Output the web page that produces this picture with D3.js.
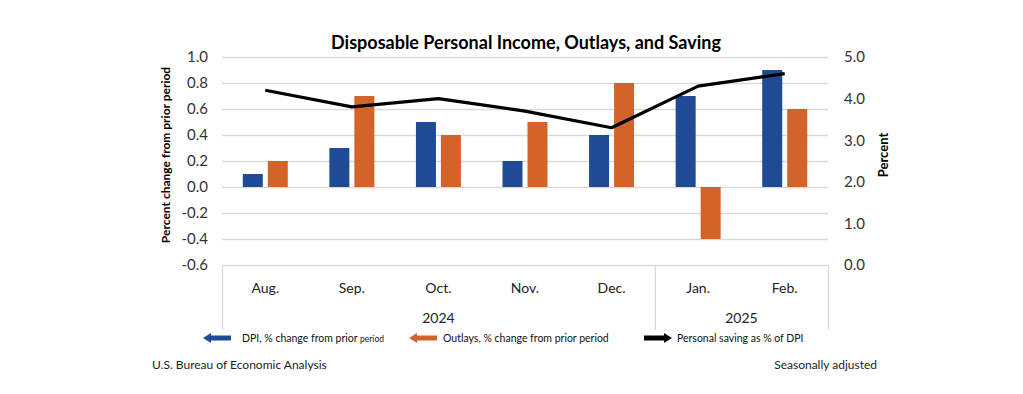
<!DOCTYPE html>
<html>
<head>
<meta charset="utf-8">
<script src="https://cdn.jsdelivr.net/npm/d3@7"></script>
<style>
  body { margin: 0; background: #fff; }
  svg text { font-family: Lato, "Open Sans", sans-serif; }
</style>
</head>
<body>
<div id="chart"></div>
<script>
// data
var months = ["Aug.", "Sep.", "Oct.", "Nov.", "Dec.", "Jan.", "Feb."];
var dpi = [0.1, 0.3, 0.5, 0.2, 0.4, 0.7, 0.9];
var outlays = [0.2, 0.7, 0.4, 0.5, 0.8, -0.4, 0.6];
var saving = [4.2, 3.8, 4.0, 3.7, 3.3, 4.3, 4.6];
var leftTicks = [-0.6, -0.4, -0.2, 0.0, 0.2, 0.4, 0.6, 0.8, 1.0];
var rightTicks = [0, 1, 2, 3, 4, 5];
var years = [{label: "2024", from: "Aug.", to: "Dec."}, {label: "2025", from: "Jan.", to: "Feb."}];

var blue = "#1f4b96", orange = "#d2642a", grid = "#d9d9d9";

var svg = d3.select("#chart").append("svg")
    .attr("width", 1023)
    .attr("height", 394);

var plotLeft = 222, plotRight = 828, plotTop = 57, plotBottom = 265;

var x = d3.scaleBand().domain(months).range([plotLeft, plotRight]);
var y = d3.scaleLinear().domain([-0.6, 1.0]).range([plotBottom, plotTop]);
var y2 = d3.scaleLinear().domain([0, 5]).range([plotBottom, plotTop]);
var xSub = d3.scaleBand().domain(["dpi", "outlays"]).range([-22.5, 22.5]).paddingInner(0.2);

// title
svg.append("text")
    .attr("x", 526).attr("y", 49)
    .attr("text-anchor", "middle")
    .style("font-size", "18px").style("font-weight", "bold")
    .attr("fill", "#000")
    .text("Disposable Personal Income, Outlays, and Saving");

// gridlines
svg.append("g").selectAll("line")
    .data(leftTicks)
    .enter().append("line")
    .attr("x1", plotLeft).attr("x2", plotRight)
    .attr("y1", function(d) { return Math.round(y(d)) + 0.5; })
    .attr("y2", function(d) { return Math.round(y(d)) + 0.5; })
    .attr("stroke", grid).attr("stroke-width", 1.3);

// left axis
var yAxis = d3.axisLeft(y).tickValues(leftTicks).tickSize(0).tickPadding(14)
    .tickFormat(function(d) { return d3.format(".1f")(d).replace("\u2212", "-"); });
var gy = svg.append("g")
    .attr("transform", "translate(" + plotLeft + ",0)")
    .call(yAxis);
gy.select(".domain").remove();
gy.selectAll("text").style("font-size", "15px").attr("fill", "#333");

// right axis
var y2Axis = d3.axisRight(y2).tickValues(rightTicks).tickSize(0).tickPadding(16)
    .tickFormat(d3.format(".1f"));
var gy2 = svg.append("g")
    .attr("transform", "translate(" + plotRight + ",0)")
    .call(y2Axis);
gy2.select(".domain").remove();
gy2.selectAll("text").style("font-size", "15px").attr("fill", "#333");

// axis titles
svg.append("text")
    .attr("transform", "translate(170,155) rotate(-90)")
    .attr("text-anchor", "middle")
    .style("font-size", "12px").style("font-weight", "bold")
    .text("Percent change from prior period");

svg.append("text")
    .attr("transform", "translate(888,155) rotate(-90)")
    .attr("text-anchor", "middle")
    .style("font-size", "13px").style("font-weight", "bold")
    .text("Percent");

// category box below plot
var boxBottom = 330;
var seps = [plotLeft, x("Jan."), plotRight];
svg.append("g").selectAll("line")
    .data(seps)
    .enter().append("line")
    .attr("x1", function(d) { return d + 0.5; }).attr("x2", function(d) { return d + 0.5; })
    .attr("y1", plotBottom).attr("y2", boxBottom)
    .attr("stroke", grid).attr("stroke-width", 1.3);

svg.append("g").selectAll("text")
    .data(months)
    .enter().append("text")
    .attr("x", function(d) { return x(d) + x.bandwidth() / 2; })
    .attr("y", 293)
    .attr("text-anchor", "middle")
    .style("font-size", "14px").attr("fill", "#222")
    .text(function(d) { return d; });

svg.append("g").selectAll("text")
    .data(years)
    .enter().append("text")
    .attr("x", function(d) { return (x(d.from) + x(d.to) + x.bandwidth()) / 2; })
    .attr("y", 323)
    .attr("text-anchor", "middle")
    .style("font-size", "14px").attr("fill", "#222")
    .text(function(d) { return d.label; });

// bars
var bars = svg.append("g");
bars.selectAll(".dpi")
    .data(dpi)
    .enter().append("rect")
    .attr("class", "dpi")
    .attr("x", function(d, i) { return x(months[i]) + x.bandwidth() / 2 + xSub("dpi"); })
    .attr("width", xSub.bandwidth())
    .attr("y", function(d) { return y(Math.max(0, d)); })
    .attr("height", function(d) { return Math.abs(y(d) - y(0)); })
    .attr("fill", blue);

bars.selectAll(".outlays")
    .data(outlays)
    .enter().append("rect")
    .attr("class", "outlays")
    .attr("x", function(d, i) { return x(months[i]) + x.bandwidth() / 2 + xSub("outlays"); })
    .attr("width", xSub.bandwidth())
    .attr("y", function(d) { return y(Math.max(0, d)); })
    .attr("height", function(d) { return Math.abs(y(d) - y(0)); })
    .attr("fill", orange);

// saving line
var line = d3.line()
    .x(function(d, i) { return x(months[i]) + x.bandwidth() / 2; })
    .y(function(d) { return y2(d); });

svg.append("path")
    .attr("d", line(saving))
    .attr("fill", "none")
    .attr("stroke", "#000")
    .attr("stroke-width", 3.2)
    .attr("stroke-linejoin", "round");

// legend
function arrow(g, x0, cy, dir, color) {
    // dir: -1 points left, 1 points right; x0 is the left end
    var len = 28, head = 8, bw = 2.5, hw = 5;
    var tip = dir < 0 ? x0 : x0 + len, tail = dir < 0 ? x0 + len : x0, neck = tip - dir * head;
    var pts = [[tail, cy - bw], [neck, cy - bw], [neck, cy - hw], [tip, cy],
               [neck, cy + hw], [neck, cy + bw], [tail, cy + bw]];
    g.append("polygon")
        .attr("points", pts.map(function(p) { return p.join(","); }).join(" "))
        .attr("fill", color);
}

var legend = svg.append("g");
var legendItems = [
    {x: 203, tx: 242, dir: -1, color: blue, text: "DPI, % change from prior ", small: "period"},
    {x: 409, tx: 443, dir: -1, color: orange, text: "Outlays, % change from prior period", small: ""},
    {x: 644, tx: 677, dir: 1, color: "#000", text: "Personal saving as % of DPI", small: ""}
];
legendItems.forEach(function(d) {
    arrow(legend, d.x, 338, d.dir, d.color);
    var t = legend.append("text")
        .attr("x", d.tx).attr("y", 342)
        .style("font-size", "10.5px").attr("fill", "#111");
    t.append("tspan").text(d.text);
    if (d.small) t.append("tspan").style("font-size", "8.5px").text(d.small);
});

// footer
svg.append("text")
    .attr("x", 152).attr("y", 369)
    .style("font-size", "12px").attr("fill", "#222")
    .text("U.S. Bureau of Economic Analysis");

svg.append("text")
    .attr("x", 877).attr("y", 369)
    .attr("text-anchor", "end")
    .style("font-size", "12px").attr("fill", "#222")
    .text("Seasonally adjusted");
</script>
</body>
</html>
